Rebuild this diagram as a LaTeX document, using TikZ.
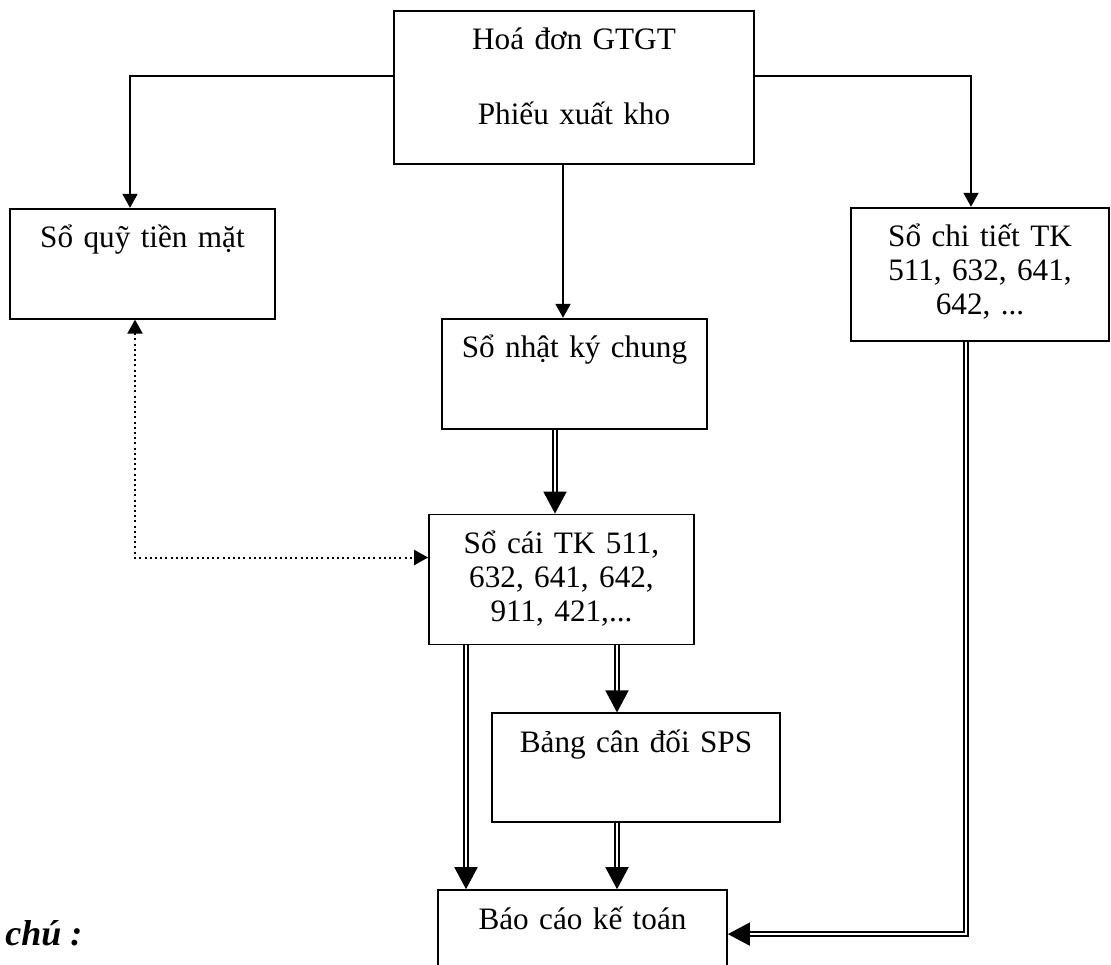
\documentclass[tikz,border=0pt]{standalone}
\usepackage{fontspec}
\setmainfont{Liberation Serif}
\usetikzlibrary{positioning,arrows.meta}
\tikzset{
    box/.style ={
        draw,
        line width=0.9pt,
        align=center,
        inner xsep=0pt,
        inner ysep=0pt,
        text height=19.5pt,
        font=\fontsize{15.6pt}{17pt}\selectfont
    },
    arr/.style ={
        line width=0.9pt,
        -{Triangle[length=7pt,width=7.5pt]}
    },
    dbl/.style ={
        double,
        line width=0.9pt,
        double distance=1.3pt,
        -{Triangle[length=11pt,width=11.5pt]}
    },
    dotline/.style ={
        line width=1pt,
        dash pattern=on 1pt off 1.6pt,
        {Triangle[length=7pt,width=7.5pt]}-{Triangle[length=7pt,width=7.5pt]}
    }
}

\begin{document}
\begin{tikzpicture}
    \useasboundingbox (0,0) rectangle (555.5pt,-482pt);
    \node[box,anchor=north,text width=180pt,text depth=57pt] (hoadon) at (287pt,-5pt) {Hoá đơn GTGT\\[20.5pt]Phiếu xuất kho};
    \node[box,below=21.5pt of hoadon,xshift=-215.75pt,text width=132.5pt,text depth=35.5pt] (soquy) {Sổ quỹ tiền mặt};
    \node[box,below=21pt of hoadon,xshift=203pt,text width=129pt,text depth=47pt] (chitiet) {Sổ chi tiết TK\\511, 632, 641,\\642, ...};
    \node[box,below=76.5pt of hoadon,xshift=0.25pt,text width=132.5pt,text depth=35.5pt] (nhatky) {Sổ nhật ký chung};
    \node[box,below=42pt of nhatky,xshift=-6.5pt,text width=132.5pt,text depth=45.5pt] (socai) {Sổ cái TK 511,\\632, 641, 642,\\911, 421,...};
    \node[box,below=33.5pt of socai,xshift=37.25pt,text width=144pt,text depth=35pt] (bangcd) {Bảng cân đối SPS};
    \node[box,below=33pt of bangcd,xshift=-26.75pt,text width=144.5pt,text depth=35.5pt] (baocao) {Báo cáo kế toán};
    \node[anchor=base west,inner sep=0pt,font=\fontsize{18pt}{20pt}\selectfont\bfseries\itshape] (ghichu) at (2.5pt,-472.5pt) {chú :};
    % luong chung tu
    \draw[arr] ([yshift=5.75pt]hoadon.west) -| ([xshift=-6.25pt]soquy.north);
    \draw[arr] ([yshift=5.75pt]hoadon.east) -| ([xshift=-4.5pt]chitiet.north);
    \draw[arr] ([xshift=-5.5pt]hoadon.south) -- ([xshift=-5.5pt]hoadon.south |- nhatky.north);
    \draw[dbl] ([xshift=-9.75pt]nhatky.south) -- ([xshift=-9.75pt]nhatky.south |- socai.north);
    \draw[dbl] ([xshift=-47.75pt]socai.south) -- ([xshift=-47.75pt]socai.south |- baocao.north);
    \draw[dbl] ([xshift=27.75pt]socai.south) -- ([xshift=27.75pt]socai.south |- bangcd.north);
    \draw[dbl] ([xshift=-9.5pt]bangcd.south) -- ([xshift=-9.5pt]bangcd.south |- baocao.north);
    \draw[dbl] ([xshift=-7pt]chitiet.south) |- ([yshift=5.5pt]baocao.east);
    % doi chieu
    \draw[dotline] ([xshift=-3.75pt]soquy.south) |- ([yshift=11pt]socai.west);
\end{tikzpicture}
\end{document}
